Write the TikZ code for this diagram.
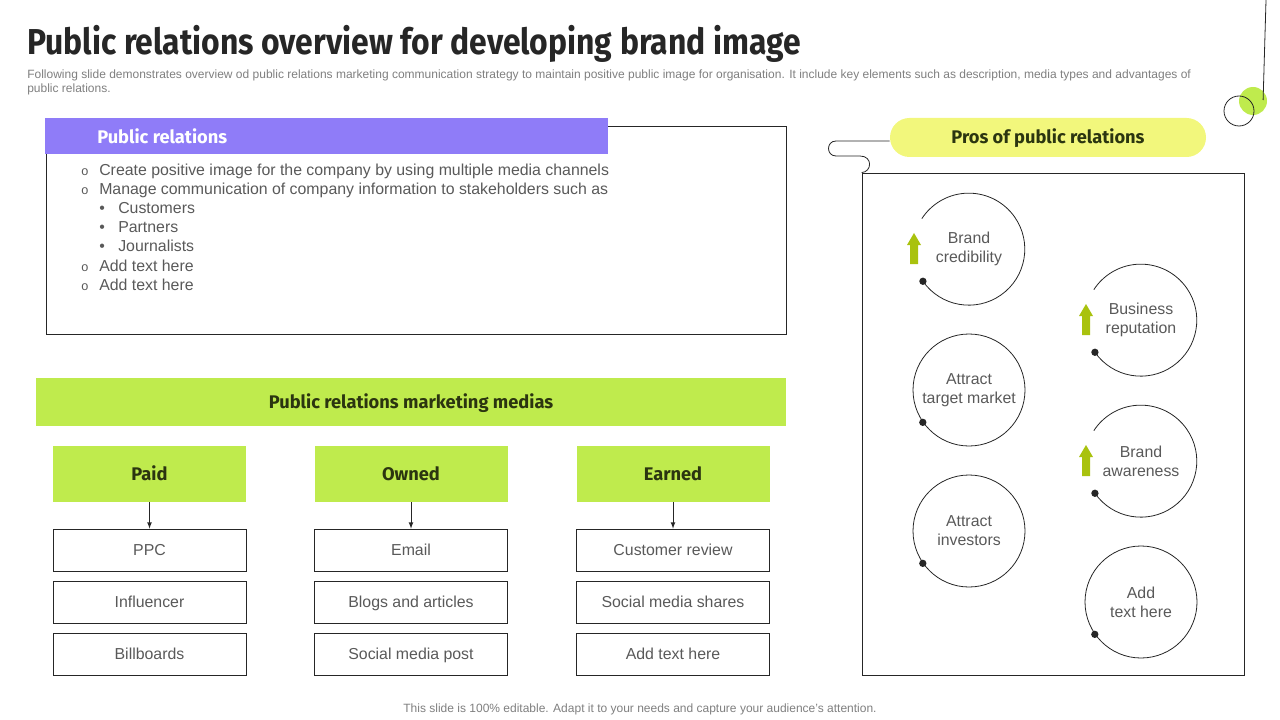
\documentclass[tikz,border=0pt]{standalone}
\usepackage{fontspec}
\setmainfont{Liberation Sans}
\newfontfamily\headfont{Fira Sans}
\newfontfamily\titlefont[FakeStretch=0.885]{Fira Sans}
\usetikzlibrary{calc}
\definecolor{purp}{HTML}{8F7CF8}
\definecolor{lgreen}{HTML}{BFEB4D}
\definecolor{pill}{HTML}{F2F77C}
\definecolor{agreen}{HTML}{A9C20E}
\definecolor{tgray}{HTML}{595959}
\definecolor{sgray}{HTML}{7F7F7F}
\definecolor{dark}{HTML}{262626}
\definecolor{olive}{HTML}{2B3510}
\begin{document}
\begin{tikzpicture}[x=0.75pt,y=-0.75pt,
  body/.style={font=\fontsize{11.9}{14.25}\selectfont, text=tgray, inner sep=0pt},
  line/.style={body, text height=8.4pt, text depth=0pt},
  hdr/.style={font=\headfont\bfseries\fontsize{13.7}{16}\selectfont, text=olive},
  catbox/.style={fill=lgreen, minimum width=144.75pt, minimum height=42pt, inner sep=0pt, hdr, text height=9.5pt, text depth=0pt},
  itembox/.style={draw=dark, line width=0.6pt, minimum width=144.75pt, minimum height=31.5pt, inner sep=0pt, line},
  ring/.style={circle, minimum size=84pt, inner sep=0pt, body, align=center},
  fullring/.style={ring, draw=dark, line width=0.6pt},
  dotmark/.style={circle, fill=dark, inner sep=0pt, minimum size=5.5pt},
  uparrow/.style={fill=agreen, draw=none},
  arr/.style={-latex, line width=0.6pt, draw=dark},
  small/.style={inner sep=0pt, text=sgray, font=\fontsize{9}{11}\selectfont, text height=6.5pt, text depth=0pt}
]
\useasboundingbox (0,0) rectangle (1280,720);

% title and subtitle
\node[anchor=base west, inner sep=0pt, text=dark, font=\titlefont\bfseries\fontsize{27}{30}\selectfont] (title) at (27,55) {Public relations overview for developing brand image};
\node[small, anchor=west] (sub1) at (27,74)
 {Following slide demonstrates overview od public relations marketing communication strategy to maintain positive public image for organisation. It include key elements such as description, media types and advantages of};
\node[small, anchor=west] (sub2) at (27,88) {public relations.};

% top right decoration
\coordinate (topline) at (1266,0);
\node[circle, fill=lgreen, minimum size=21pt, inner sep=0pt] (gdot) at (1253,101) {};
\node[circle, draw=dark, line width=0.6pt, minimum size=22.5pt, inner sep=0pt] (bring) at (1239,111) {};
\draw[dark, line width=0.6pt] (topline) -- (gdot.north east |- 0,100);

% public relations box
\node[draw=dark, line width=0.6pt, minimum width=555pt, minimum height=156pt, inner sep=0pt] (prbox) at (416,230) {};
\node[fill=purp, minimum width=422.25pt, minimum height=27pt, inner sep=0pt] (prhead) at (326.5,136) {};
\node[anchor=west, inner sep=0pt, text=white, font=\headfont\bfseries\fontsize{13.7}{16}\selectfont, text height=9.5pt, text depth=0pt] (prtitle) at (97,137) {Public relations};

\foreach \y/\t [count=\i] in {170/Create positive image for the company by using multiple media channels,
  189/Manage communication of company information to stakeholders such as,
  266/Add text here, 285/Add text here}{
  \node[line, anchor=west] (ob\i) at (81,\y) {\fontsize{9.5}{9.5}\selectfont o};
  \node[line, anchor=west] (ot\i) at (99,\y) {\t};
}
\foreach \y/\t [count=\i] in {208/Customers, 227/Partners, 246/Journalists}{
  \node[line, anchor=west] (sb\i) at (99,\y) {\textbullet};
  \node[line, anchor=west] (st\i) at (118,\y) {\t};
}

% marketing medias
\node[fill=lgreen, minimum width=562.5pt, minimum height=36pt, inner sep=0pt, hdr, text height=9.5pt, text depth=0pt] (bar) at (411,402) {Public relations marketing medias};

\foreach \x/\c/\a/\b/\d/\n in {149.5/Paid/PPC/Influencer/Billboards/p,
  411/Owned/Email/Blogs and articles/Social media post/o,
  673/Earned/Customer review/Social media shares/Add text here/e}{
  \node[catbox] (\n cat) at (\x,474) {\c};
  \node[itembox] (\n a) at (\x,550) {\a};
  \node[itembox] (\n b) at (\x,602) {\b};
  \node[itembox] (\n c) at (\x,654) {\d};
  \draw[arr] (\n cat) -- (\n a);
}

% pros
\node[fill=pill, rounded corners=14.6pt, minimum width=237pt, minimum height=29.25pt, inner sep=0pt, hdr, text height=9.5pt, text depth=0pt] (pros) at (1048,137.5) {Pros of public relations};
\node[draw=dark, line width=0.6pt, minimum width=286.5pt, minimum height=376.5pt, inner sep=0pt] (prosbox) at (1053,424) {};
\draw[dark, line width=0.6pt] ([yshift=-2.6pt]pros.west) -- (836,141) .. controls (826,141) and (826,156) .. (836,156)
  -- (860,156) .. controls (873,156) and (872,172) .. (prosbox.north west);

% rings with gap and arrow
\foreach \x/\y/\t/\n in {969/249/Brand\\credibility/r1, 1141/320/Business\\reputation/r2, 1141/461/Brand\\awareness/r4}{
  \node[ring] (\n) at (\x,\y) {\t};
  \draw[dark, line width=0.6pt] (\n.215) arc[start angle=215, end angle=507, radius=42pt];
  \node[dotmark] (\n d) at (\n.215) {};
  \begin{scope}[shift={(\n.center)}]
    \fill[uparrow] (-55,-16) -- (-62,-4) -- (-59,-4) -- (-59,15) -- (-51,15) -- (-51,-4) -- (-48,-4) -- cycle;
  \end{scope}
}
\foreach \x/\y/\t/\n in {969/390/Attract\\target market/r3, 969/531/Attract\\investors/r5, 1141/602/Add\\text here/r6}{
  \node[fullring] (\n) at (\x,\y) {\t};
  \node[dotmark] (\n d) at (\n.215) {};
}

% footer
\node[small] (foot) at (640,708) {This slide is 100\% editable. Adapt it to your needs and capture your audience's attention.};
\end{tikzpicture}
\end{document}
